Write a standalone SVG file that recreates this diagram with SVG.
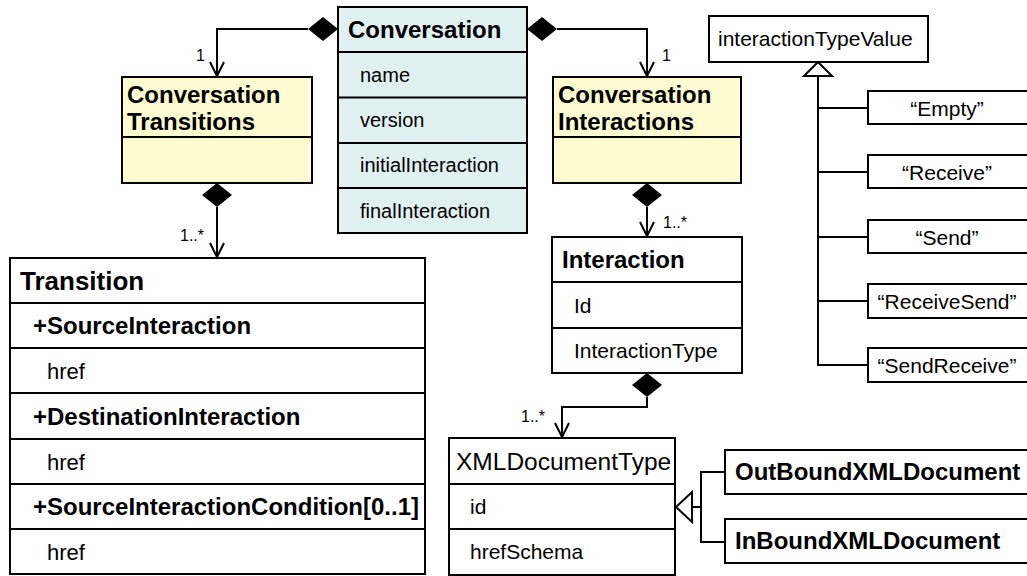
<svg xmlns="http://www.w3.org/2000/svg" width="1027" height="576" viewBox="0 0 1027 576">
<style>
text{font-family:"Liberation Sans",Arial,sans-serif;fill:#000}
.box{stroke:#000;stroke-width:2;fill:#fff}
.cyan{fill:#E1F1F1}
.yel{fill:#FEFCD0}
.ln{stroke:#000;stroke-width:2;fill:none}
.h{font-weight:bold;font-size:24px}
.a{font-size:20px}
.a21{font-size:21px}
.b{font-weight:bold;font-size:24px}
.m{font-size:16px}
.c{text-anchor:middle}
</style>
<defs>
<marker id="open" viewBox="0 0 16 16" refX="15" refY="8" markerWidth="16" markerHeight="16" markerUnits="userSpaceOnUse" orient="auto">
<path d="M1,1 L15,8 L1,15" fill="none" stroke="#000" stroke-width="2"/>
</marker>
</defs>
<rect width="1027" height="576" fill="#fff"/>

<g id="connectors">
<!-- Conversation -> Conversation Transitions -->
<polygon points="338,29 323,17 308,29 323,41" fill="#000"/>
<polyline class="ln" points="308,29 217,29 217,76" marker-end="url(#open)"/>
<text class="m" x="196" y="61">1</text>
<!-- Conversation -> Conversation Interactions -->
<polygon points="527,29 542,17 557,29 542,41" fill="#000"/>
<polyline class="ln" points="557,29 647,29 647,76" marker-end="url(#open)"/>
<text class="m" x="662" y="61">1</text>
<!-- Transitions -> Transition -->
<polygon points="217,183 232,195 217,207 202,195" fill="#000"/>
<line class="ln" x1="217" y1="207" x2="217" y2="257" marker-end="url(#open)"/>
<text class="m" x="180" y="241">1..*</text>
<!-- Interactions -> Interaction -->
<polygon points="647,183 662,195 647,207 632,195" fill="#000"/>
<line class="ln" x1="647" y1="207" x2="647" y2="236" marker-end="url(#open)"/>
<text class="m" x="663" y="228">1..*</text>
<!-- Interaction -> XMLDocumentType -->
<polygon points="647,373 662,385 647,397 632,385" fill="#000"/>
<polyline class="ln" points="647,397 647,407 562,407 562,437" marker-end="url(#open)"/>
<text class="m" x="521" y="422">1..*</text>
<!-- generalization to interactionTypeValue -->
<polygon points="818,62 832,76 804,76" fill="#fff" stroke="#000" stroke-width="2"/>
<line class="ln" x1="818" y1="76" x2="818" y2="366"/>
<line class="ln" x1="818" y1="108" x2="868" y2="108"/>
<line class="ln" x1="818" y1="172" x2="868" y2="172"/>
<line class="ln" x1="818" y1="237" x2="868" y2="237"/>
<line class="ln" x1="818" y1="301" x2="868" y2="301"/>
<line class="ln" x1="817" y1="365" x2="868" y2="365"/>
<!-- generalization to XMLDocumentType -->
<polygon points="676,507 692,492 692,522" fill="#fff" stroke="#000" stroke-width="2"/>
<line class="ln" x1="692" y1="507" x2="701" y2="507"/>
<polyline class="ln" points="725,472 701,472 701,542 725,542"/>
</g>

<g id="conversation">
<rect class="box cyan" x="338" y="7" width="189" height="226"/>
<line class="ln" x1="338" y1="52" x2="527" y2="52"/>
<line class="ln" x1="338" y1="97.5" x2="527" y2="97.5"/>
<line class="ln" x1="338" y1="143" x2="527" y2="143"/>
<line class="ln" x1="338" y1="188" x2="527" y2="188"/>
<text class="h" x="348" y="38">Conversation</text>
<text class="a" x="360" y="82">name</text>
<text class="a" x="360" y="127">version</text>
<text class="a" x="360" y="172">initialInteraction</text>
<text class="a" x="360" y="218">finalInteraction</text>
</g>

<g id="conversation-transitions">
<rect class="box yel" x="122" y="77" width="190" height="106"/>
<line class="ln" x1="122" y1="137" x2="312" y2="137"/>
<text class="h" x="127" y="103">Conversation</text>
<text class="h" x="127" y="130">Transitions</text>
</g>

<g id="conversation-interactions">
<rect class="box yel" x="553" y="77" width="188" height="106"/>
<line class="ln" x1="553" y1="137" x2="741" y2="137"/>
<text class="h" x="558" y="103">Conversation</text>
<text class="h" x="558" y="130">Interactions</text>
</g>

<g id="transition">
<rect class="box" x="10" y="258" width="415" height="316"/>
<line class="ln" x1="10" y1="303" x2="425" y2="303"/>
<line class="ln" x1="10" y1="348" x2="425" y2="348"/>
<line class="ln" x1="10" y1="393" x2="425" y2="393"/>
<line class="ln" x1="10" y1="439" x2="425" y2="439"/>
<line class="ln" x1="10" y1="484" x2="425" y2="484"/>
<line class="ln" x1="10" y1="529" x2="425" y2="529"/>
<text x="20" y="290" style="font-weight:bold;font-size:26px">Transition</text>
<text class="b" x="33" y="334">+SourceInteraction</text>
<text style="font-size:22px" x="47" y="379">href</text>
<text class="b" x="33" y="425">+DestinationInteraction</text>
<text style="font-size:22px" x="47" y="470">href</text>
<text class="b" x="33" y="515">+SourceInteractionCondition[0..1]</text>
<text style="font-size:22px" x="47" y="560">href</text>
</g>

<g id="interaction">
<rect class="box" x="552" y="237" width="190" height="136"/>
<line class="ln" x1="552" y1="282" x2="742" y2="282"/>
<line class="ln" x1="552" y1="328" x2="742" y2="328"/>
<text class="h" x="562" y="268">Interaction</text>
<text class="a21" x="574" y="313">Id</text>
<text class="a21" x="574" y="358">InteractionType</text>
</g>

<g id="xmldocumenttype">
<rect class="box" x="449" y="438" width="226" height="137"/>
<line class="ln" x1="449" y1="484" x2="675" y2="484"/>
<line class="ln" x1="449" y1="529" x2="675" y2="529"/>
<text x="456" y="470" style="font-size:24.5px">XMLDocumentType</text>
<text class="a21" x="470" y="514">id</text>
<text class="a21" x="470" y="559">hrefSchema</text>
</g>

<g id="outbound">
<rect class="box" x="725" y="450" width="310" height="44"/>
<text class="b" x="735" y="480">OutBoundXMLDocument</text>
</g>
<g id="inbound">
<rect class="box" x="725" y="519" width="310" height="44"/>
<text class="b" x="735" y="549">InBoundXMLDocument</text>
</g>

<g id="interactiontypevalue">
<rect class="box" x="709" y="16" width="219" height="46"/>
<text class="a21" x="718" y="46">interactionTypeValue</text>
</g>

<g id="empty">
<rect class="box" x="868" y="91" width="165" height="33"/>
<text class="a21 c" x="947" y="116">“Empty”</text>
</g>
<g id="receive">
<rect class="box" x="868" y="155" width="165" height="33"/>
<text class="a21 c" x="947" y="180">“Receive”</text>
</g>
<g id="send">
<rect class="box" x="868" y="220" width="165" height="33"/>
<text class="a21 c" x="947" y="245">“Send”</text>
</g>
<g id="receivesend">
<rect class="box" x="868" y="284" width="165" height="34"/>
<text class="a21 c" x="947" y="309">“ReceiveSend”</text>
</g>
<g id="sendreceive">
<rect class="box" x="868" y="348" width="165" height="34"/>
<text class="a21 c" x="947" y="373">“SendReceive”</text>
</g>
</svg>
